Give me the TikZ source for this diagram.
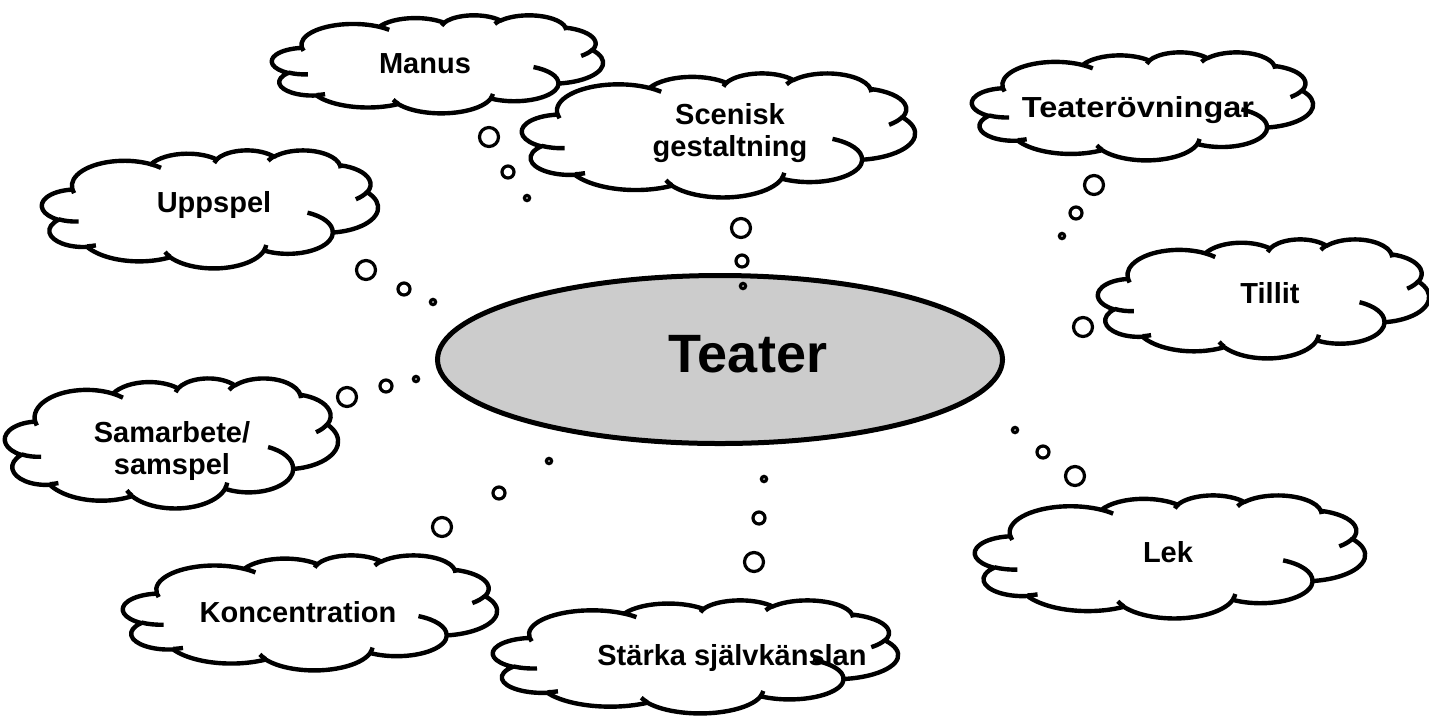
\documentclass[tikz,border=0pt]{standalone}
\usepackage{fontspec}
\setmainfont{Liberation Sans}
\usetikzlibrary{shapes.geometric}
% one elliptic arc of the Office cloud: wR hR startAngle sweep (visual angles)
\newcommand\cldarc[4]{arc[x radius=#1, y radius=#2, start angle={atan2((#1)*sin(#3),(#2)*cos(#3))}, delta angle={mod(atan2((#1)*sin((#3)+(#4)),(#2)*cos((#3)+(#4)))-atan2((#1)*sin(#3),(#2)*cos(#3))+720,360)}]}
\newcommand\mycloud[4]{%
 \begin{scope}[shift={(#1,#2)}, x=1pt, y=1pt, xscale={0.5*(#3)/43.2}, yscale={-0.5*(#4)/43.2}]
  \draw[cloudline, fill=white] (3.9,14.37)
   \cldarc{6.753}{9.19}{-190.4875}{123.7805}
   \cldarc{5.333}{7.267}{-144.1024}{89.9452}
   \cldarc{4.365}{5.945}{-145.8079}{99.723}
   \cldarc{4.857}{6.595}{-130.9861}{117.2417}
   \cldarc{5.333}{7.273}{-78.7089}{109.0269}
   \cldarc{6.775}{9.22}{-46.2673}{130.269}
   \cldarc{5.785}{7.867}{0.625}{114.0333}
   \cldarc{6.752}{9.215}{22.4516}{115.1726}
   \cldarc{7.72}{10.543}{66.2426}{75.711}
   \cldarc{4.36}{5.918}{-274.9421}{146.7356}
   \cldarc{4.345}{5.945}{-246.8285}{152.5189} -- cycle;
  \draw[cloudline]
   (4.693,26.177) \cldarc{4.345}{5.945}{86.742}{26.4295}
   (6.928,34.899) \cldarc{4.36}{5.918}{73.6105}{11.4475}
   (16.478,39.09) \cldarc{6.752}{9.215}{137.6242}{14.0811}
   (28.827,34.751) \cldarc{6.752}{9.215}{6.4533}{15.9984}
   (34.129,22.954) \cldarc{5.785}{7.867}{-70.2924}{70.9174}
   (41.798,15.354) \cldarc{5.333}{7.273}{30.318}{27.7515}
   (38.324,5.426) \cldarc{4.857}{6.595}{-13.7443}{14.8598}
   (29.078,3.952) \cldarc{4.857}{6.595}{-149.1815}{18.193}
   (22.141,4.72) \cldarc{4.365}{5.945}{-163.4943}{17.6962}
   (14.0,5.192) \cldarc{6.753}{9.19}{-66.707}{12.3194}
   (4.127,15.789) \cldarc{6.753}{9.19}{157.6544}{11.8582};
 \end{scope}}
\begin{document}
\begin{tikzpicture}[x=0.5pt, y=-0.5pt,
  cloudline/.style={line width=2.2pt, line join=round},
  bub/.style={circle, draw, line width=1.6pt, fill=white, inner sep=0pt},
  bubL/.style={bub, minimum size=9.5pt},
  bubM/.style={bub, minimum size=6pt},
  bubS/.style={bub, minimum size=2.6pt},
  lbl/.style={font=\fontsize{14.5}{16.25}\selectfont\bfseries, align=center, inner sep=0pt},
  hub/.style={ellipse, draw, line width=2.5pt, fill=gray!40, inner sep=0pt, minimum width=282.5pt, minimum height=84pt}]
\useasboundingbox (0,0) rectangle (1429,720);
% clouds
\mycloud{272}{15}{331}{98}
\node[lbl, anchor=base] (manus) at (425,73) {Manus};
\mycloud{522}{73}{393}{124}
\node[lbl] (scenisk) at (730,133) {Scenisk\\gestaltning};
\mycloud{972}{52}{341}{108}
\node[lbl, anchor=base] (ovningar) at (1138,117) {\scalebox{1.12}[1]{Teaterövningar}};
\mycloud{42}{150}{336}{118}
\node[lbl, anchor=base] (uppspel) at (214,212) {Uppspel};
\mycloud{1098}{239}{331}{119}
\node[lbl, anchor=base] (tillit) at (1270,303) {Tillit};
\mycloud{5}{378}{333}{130}
\node[lbl] (samarbete) at (172,451) {Samarbete/\\samspel};
\mycloud{123}{555}{374}{115}
\node[lbl, anchor=base] (konc) at (298,622) {Koncentration};
\mycloud{975}{495}{390}{123}
\node[lbl, anchor=base] (lek) at (1168,562) {Lek};
\mycloud{493}{600}{405}{113}
\node[lbl, anchor=base] (starka) at (732,665) {Stärka självkänslan};
% centre
\node[hub] (teater) at (720,359.5) {};
\node[font=\fontsize{27}{30}\selectfont\bfseries, anchor=base, inner sep=0pt] (teatertxt) at (748,372) {Teater};
% thought bubbles
\node[bubL] (m1) at (489,137) {};
\node[bubM] (m2) at (508,172) {};
\node[bubS] (m3) at (527,198) {};
\node[bubL] (s1) at (741,228) {};
\node[bubM] (s2) at (742,261) {};
\node[bubS] (s3) at (743,286) {};
\node[bubL] (o1) at (1094,185) {};
\node[bubM] (o2) at (1076,213) {};
\node[bubS] (o3) at (1062,236) {};
\node[bubL] (t1) at (1083,327) {};
\node[bubL] (u1) at (366,270) {};
\node[bubM] (u2) at (404,289) {};
\node[bubS] (u3) at (433,302) {};
\node[bubL] (a1) at (347,397) {};
\node[bubM] (a2) at (386,386) {};
\node[bubS] (a3) at (416,379) {};
\node[bubL] (k1) at (442,527) {};
\node[bubM] (k2) at (499,493) {};
\node[bubS] (k3) at (549,461) {};
\node[bubL] (st1) at (754,562) {};
\node[bubM] (st2) at (759,518) {};
\node[bubS] (st3) at (764,479) {};
\node[bubL] (l1) at (1075,476) {};
\node[bubM] (l2) at (1043,452) {};
\node[bubS] (l3) at (1015,430) {};
\end{tikzpicture}
\end{document}
